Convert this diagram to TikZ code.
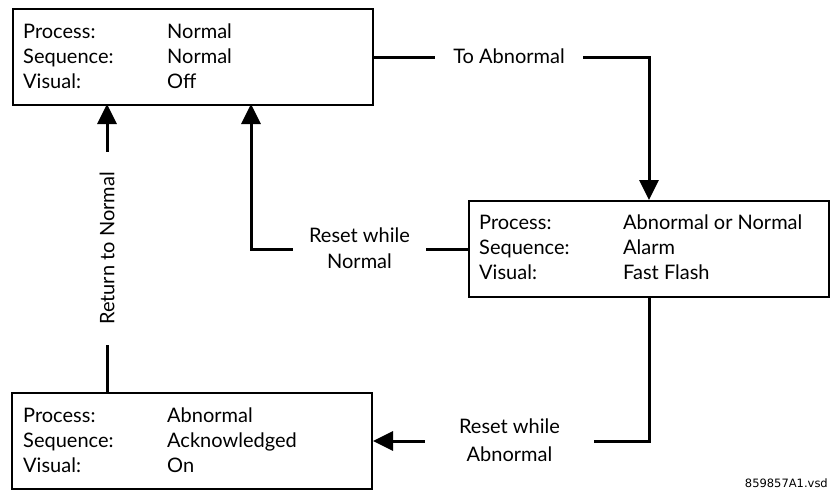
\documentclass[tikz,border=0pt]{standalone}
\usepackage{fontspec}
\setmainfont{Lato}
\newfontfamily\tagfont{DejaVu Sans}
\usetikzlibrary{arrows.meta}
\begin{document}
\begin{tikzpicture}[x=1pt,y=-1pt,
  statebox/.style={draw=black, line width=2pt, minimum width=360pt, minimum height=96pt, anchor=north west, inner sep=0pt},
  txt/.style={anchor=base west, inner sep=0pt, font=\fontsize{20pt}{25pt}\selectfont},
  lbl/.style={inner sep=0pt, align=center, font=\fontsize{20pt}{25.5pt}\selectfont},
  conn/.style={line width=3pt},
  arr/.style={line width=3pt, -{Triangle[length=20pt,width=19pt]}}]
\useasboundingbox (0,0) rectangle (837,499);
% boxes
\node[statebox] (b1) at (12,8) {};
\node[statebox] (b2) at (468,200) {};
\node[statebox] (b3) at (11,392) {};
% box 1 text
\node[txt] (b1p) at (23,38) {Process:};
\node[txt] (b1s) at (23,63) {Sequence:};
\node[txt] (b1v) at (23,88) {Visual:};
\node[txt] (b1pv) at (167,38) {Normal};
\node[txt] (b1sv) at (167,63) {Normal};
\node[txt] (b1vv) at (167,88) {Off};
% box 2 text
\node[txt] (b2p) at (479,229) {Process:};
\node[txt] (b2s) at (479,254) {Sequence:};
\node[txt] (b2v) at (479,279) {Visual:};
\node[txt] (b2pv) at (623,229) {Abnormal or Normal};
\node[txt] (b2sv) at (623,254) {Alarm};
\node[txt] (b2vv) at (623,279) {Fast Flash};
% box 3 text
\node[txt] (b3p) at (23,422) {Process:};
\node[txt] (b3s) at (23,447) {Sequence:};
\node[txt] (b3v) at (23,472) {Visual:};
\node[txt] (b3pv) at (167,422) {Abnormal};
\node[txt] (b3sv) at (167,447) {Acknowledged};
\node[txt] (b3vv) at (167,472) {On};
% labels
\node[lbl, minimum width=148pt] (lA) at (509,56) {To Abnormal};
\node[lbl, minimum width=133pt] (lN) at (359.5,248) {Reset while\\Normal};
\node[lbl, minimum width=169pt, font=\fontsize{20pt}{28pt}\selectfont] (lAb) at (509.5,440) {Reset while\\Abnormal};
\node[lbl, rotate=90, minimum width=193pt] (lR) at (107,248.5) {Return to Normal};
\node[inner sep=0pt, anchor=base east, font=\tagfont\fontsize{11.5pt}{14pt}\selectfont] (tag) at (828,487) {859857A1.vsd};
% connector coordinates
\coordinate (b1l) at (107,104);
\coordinate (b1r) at (251,104);
\coordinate (b3t) at (107,392);
% connectors
\draw[conn] (b1.east) -- (b1.east -| lA.west);
\draw[arr] (lA.east |- b1.east) -| (b2.north);
\draw[conn] (b2.west) -- (b2.west -| lN.east);
\draw[arr] (lN.west |- b2.west) -| (b1r);
\draw[conn] (b2.south) |- (lAb.east |- b3.east);
\draw[arr] (lAb.west |- b3.east) -- (b3.east);
\draw[conn] (b3t) -- (b3t |- lR.west);
\draw[arr] (b1l |- lR.east) -- (b1l);
\end{tikzpicture}
\end{document}
